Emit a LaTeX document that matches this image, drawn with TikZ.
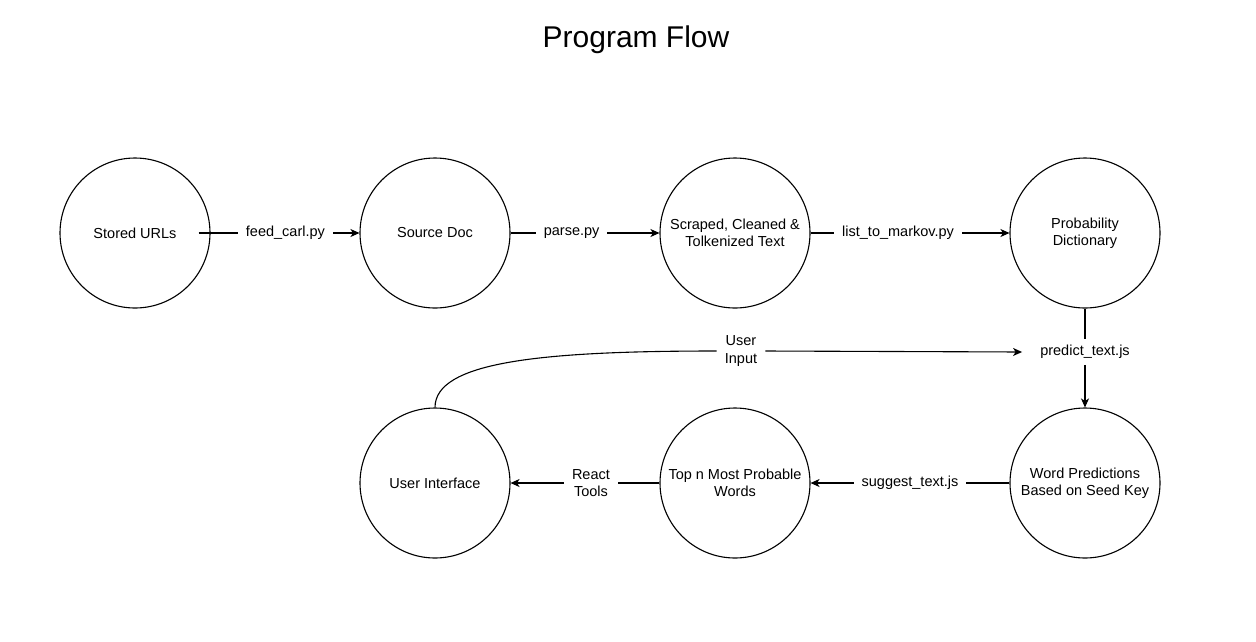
\documentclass[tikz,border=0pt]{standalone}
\usepackage{fontspec}
\setmainfont{Liberation Sans}
\usetikzlibrary{arrows.meta,positioning,calc}

\tikzset{
    stage/.style={draw, circle, line width=1.1pt, minimum size=150pt, inner sep=0pt, align=center,
        font=\fontsize{14.5}{17.5}\selectfont},
    flow/.style={line width=1.1pt, -{Stealth[length=9pt,width=8pt,inset=2.5pt]}},
    plain/.style={line width=1.1pt},
    lbl/.style={fill=white, inner xsep=8pt, inner ysep=6pt, align=center,
        font=\fontsize{14.5}{17.5}\selectfont}
}

\begin{document}
\begin{tikzpicture}[x=1pt, y=-1pt]
    % Page frame
    \useasboundingbox[fill=white] (0,0) rectangle (1256,641);

    % Title
    \node[font=\fontsize{30}{36}\selectfont] (title) at (636,40) {Program Flow};

    % Top row
    \node[stage] (urls)  at (135,233)  {Stored URLs};
    \node[stage] (src)   at (435,233)  {Source Doc};
    \node[stage] (clean) at (735,233)  {Scraped, Cleaned \&\\Tolkenized Text};
    \node[stage] (prob)  at (1085,233) {Probability\\Dictionary};

    % Bottom row
    \node[stage] (ui)    at (435,483)  {User Interface};
    \node[stage] (topn)  at (735,483)  {Top n Most Probable\\Words};
    \node[stage] (pred)  at (1085,483) {Word Predictions\\Based on Seed Key};

    % Top row connectors
    \draw[flow] ([xshift=-12pt]urls.east) -- node[lbl, pos=0.54] (feed) {feed\_carl.py} (src.west);
    \draw[flow] (src.east) -- node[lbl, pos=0.41] (parse) {parse.py} (clean.west);
    \draw[flow] (clean.east) -- node[lbl, pos=0.44] (markov) {list\_to\_markov.py} (prob.west);

    % Dictionary down to predictions
    \node[lbl] (predict) at (1085,352) {predict\_text.js};
    \draw[plain] (prob.south) -- (predict.north);
    \draw[flow] (predict.south) -- (pred.north);

    % Bottom row connectors
    \draw[flow] (pred.west) -- node[lbl, pos=0.5] (suggest) {suggest\_text.js} (topn.east);
    \draw[flow] (topn.west) -- node[lbl, pos=0.46] (react) {React\\Tools} (ui.east);

    % User input loop
    \node[lbl, inner ysep=2pt] (input) at (741,351) {User\\Input};
    \draw[plain] (ui.north) .. controls (435,362) and (540,351) .. (input.west);
    \draw[flow] (input.east) -- ([xshift=-10pt]predict.west);

\end{tikzpicture}
\end{document}
